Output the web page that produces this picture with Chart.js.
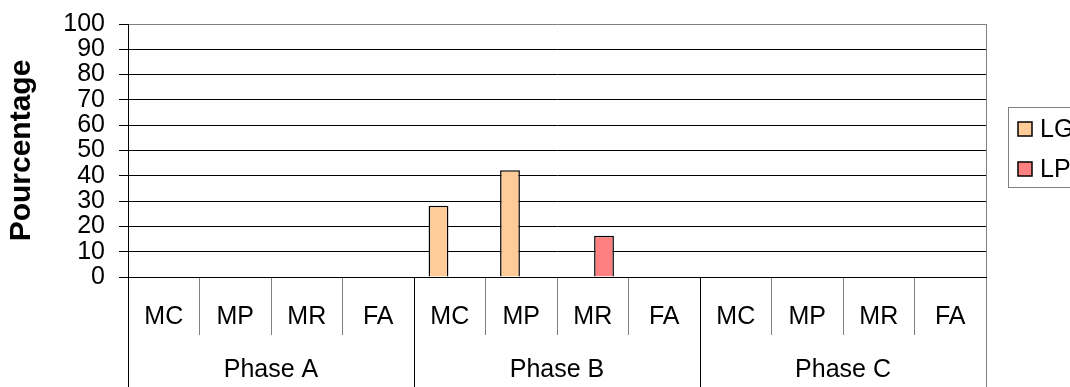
<!DOCTYPE html>
<html>
<head>
<meta charset="utf-8">
<script src="https://cdn.jsdelivr.net/npm/chart.js@4/dist/chart.umd.min.js"></script>
<style>
  html, body { margin: 0; padding: 0; background: #fff; overflow: hidden; }
  canvas { display: block; }
</style>
</head>
<body>
<canvas id="chart_phase" width="1070" height="387"></canvas>
<script>
var measures = ['MC', 'MP', 'MR', 'FA', 'MC', 'MP', 'MR', 'FA', 'MC', 'MP', 'MR', 'FA'];
var phases = ['Phase A', 'Phase B', 'Phase C'];
var seriesNames = ['LG', 'LP'];
var lgValues = [null, null, null, null, 28.2, 42.2, null, null, null, null, null, null];
var lpValues = [null, null, null, null, null, null, 16.3, null, null, null, null, null];
var seriesColors = ['#FFCC99', '#FF8080'];

Chart.defaults.font.family = '"Liberation Sans", Arial, sans-serif';
Chart.defaults.color = '#000';

// legend box and right border of the plot, drawn after the chart
var extras = {
    id: 'extras',
    afterDraw: function (chart) {
        var ctx = chart.ctx;
        var area = chart.chartArea;
        ctx.save();
        ctx.strokeStyle = '#808080';
        ctx.lineWidth = 1;
        ctx.beginPath();
        ctx.moveTo(area.right + 0.5, area.top);
        ctx.lineTo(area.right + 0.5, area.bottom);
        ctx.stroke();

        ctx.strokeRect(1008.5, 107.5, 90, 80);
        ctx.font = '25px "Liberation Sans", Arial, sans-serif';
        ctx.textBaseline = 'middle';
        chart.data.datasets.forEach(function (ds, i) {
            var cy = 129 + i * 40;
            ctx.fillStyle = ds.backgroundColor;
            ctx.fillRect(1018, cy - 7, 14, 14);
            ctx.strokeStyle = '#000';
            ctx.lineWidth = 1.5;
            ctx.strokeRect(1018, cy - 7, 14, 14);
            ctx.fillStyle = '#000';
            ctx.fillText(ds.label, 1040, cy + 1);
        });
        ctx.restore();
    }
};

var canvas = document.getElementById('chart_phase').getContext('2d');
var chart = new Chart(canvas, {
    type: 'bar',
    data: {
        labels: measures,
        datasets: [{
            label: seriesNames[0],
            data: lgValues,
            backgroundColor: seriesColors[0],
            borderColor: '#000',
            borderWidth: 1.5
        }, {
            label: seriesNames[1],
            data: lpValues,
            backgroundColor: seriesColors[1],
            borderColor: '#000',
            borderWidth: 1.5
        }]
    },
    options: {
        responsive: false,
        animation: false,
        categoryPercentage: 0.63,
        barPercentage: 0.88,
        layout: { padding: { top: 24, right: 84, bottom: 0, left: 0 } },
        plugins: {
            legend: { display: false },
            tooltip: { enabled: false }
        },
        scales: {
            y: {
                min: 0,
                max: 100,
                ticks: { stepSize: 10, autoSkip: false, font: { size: 25 }, color: '#000', padding: 14 },
                grid: {
                    color: function (c) { return c.tick && c.tick.value === 100 ? '#808080' : '#000'; },
                    tickColor: '#000',
                    tickLength: 9,
                    lineWidth: 1
                },
                border: { color: '#000' },
                title: {
                    display: true,
                    text: 'Pourcentage',
                    font: { size: 30, weight: 'bold' },
                    color: '#000',
                    padding: { top: 4, bottom: 0 }
                },
                afterFit: function (s) {
                    s.width = 128;
                    s.paddingTop = 0;
                    s.paddingBottom = 0;
                }
            },
            x: {
                offset: true,
                grid: {
                    offset: true,
                    drawOnChartArea: false,
                    tickLength: 58,
                    color: function (c) { return c.index % 4 === 0 && c.index < 12 ? '#000' : '#808080'; }
                },
                border: { color: '#000' },
                ticks: { font: { size: 25 }, color: '#000', padding: -33, maxRotation: 0, autoSkip: false },
                afterFit: function (s) { s.height = 58; }
            },
            x2: {
                type: 'category',
                labels: phases,
                position: 'bottom',
                offset: true,
                grid: {
                    offset: true,
                    drawOnChartArea: false,
                    tickLength: 52,
                    color: function (c) { return c.index < 3 ? '#000' : '#808080'; }
                },
                border: { display: false },
                ticks: { font: { size: 25 }, color: '#000', padding: -32, maxRotation: 0, autoSkip: false },
                afterFit: function (s) { s.height = 52; }
            }
        }
    },
    plugins: [extras]
});
</script>
</body>
</html>
